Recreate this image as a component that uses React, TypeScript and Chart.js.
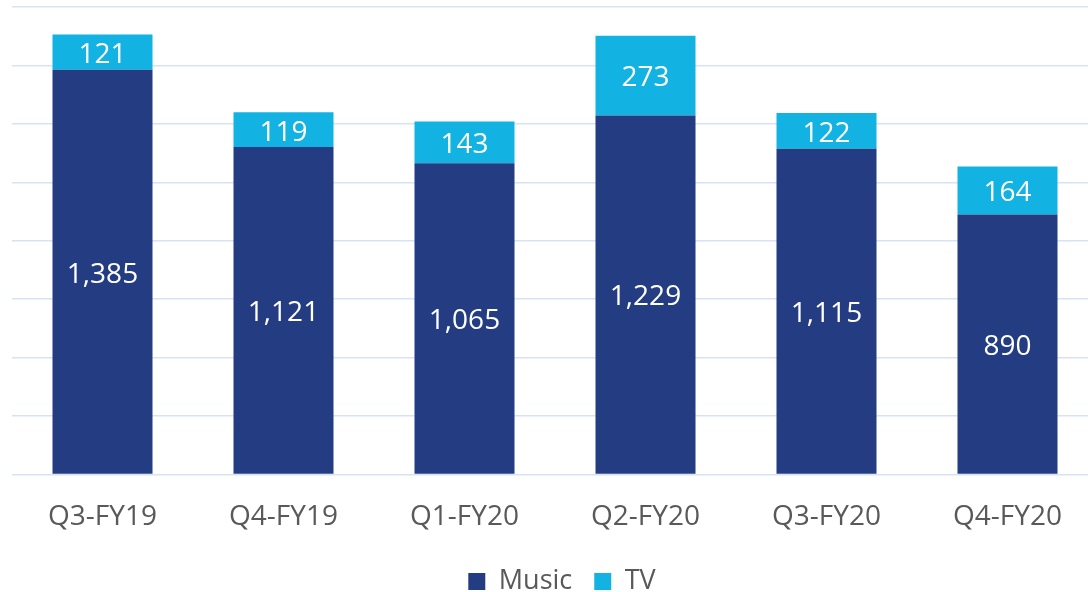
import React, { useEffect, useRef } from "react";
import { Chart, registerables } from "chart.js";

Chart.register(...registerables);

const categories = ["Q3-FY19", "Q4-FY19", "Q1-FY20", "Q2-FY20", "Q3-FY20", "Q4-FY20"];
const musicValues = [1385, 1121, 1065, 1229, 1115, 890];
const tvValues = [121, 119, 143, 273, 122, 164];
const seriesNames = ["Music", "TV"];
const seriesColors = ["#243C81", "#12B3E2"];
const yMax = 1600;
const yStep = 200;

const FONT = "'Open Sans', 'DejaVu Sans', sans-serif";

const valueLabels = {
  id: "valueLabels",
  afterDatasetsDraw(chart: any) {
    const ctx = chart.ctx;
    ctx.save();
    ctx.fillStyle = "#FFFFFF";
    ctx.font = `28px ${FONT}`;
    ctx.textAlign = "center";
    ctx.textBaseline = "middle";
    chart.data.datasets.forEach((ds: any, di: number) => {
      const meta = chart.getDatasetMeta(di);
      meta.data.forEach((bar: any, i: number) => {
        const v = ds.data[i];
        const y = (bar.y + bar.base) / 2 + 3;
        ctx.fillText(v.toLocaleString("en-US"), bar.x, y);
      });
    });
    ctx.restore();
  },
};

const legendShift = {
  id: "legendShift",
  afterLayout(chart: any) {
    if (chart.legend) {
      chart.legend.left += 7;
      chart.legend.right += 7;
    }
  },
};

export default function App() {
  const ref = useRef<HTMLCanvasElement | null>(null);
  useEffect(() => {
    if (!ref.current) return;
    const chart = new Chart(ref.current, {
      type: "bar",
      data: {
        labels: categories,
        datasets: [
          { label: seriesNames[0], data: musicValues, backgroundColor: seriesColors[0] },
          { label: seriesNames[1], data: tvValues, backgroundColor: seriesColors[1] },
        ],
      },
      options: {
        animation: false,
        responsive: false,
        maintainAspectRatio: false,
        layout: { padding: { left: 12, right: 0, top: 7, bottom: -13 } },
        datasets: { bar: { categoryPercentage: 1, barPercentage: 0.5525 } },
        plugins: {
          tooltip: { enabled: false },
          legend: {
            position: "bottom",
            labels: {
              font: { family: FONT, size: 27 },
              color: "#595959",
              boxWidth: 17,
              boxHeight: 17,
              padding: 22,
            },
          },
        },
        scales: {
          x: {
            stacked: true,
            grid: { display: false, drawTicks: false },
            border: { display: false },
            ticks: { font: { family: FONT, size: 28 }, color: "#595959", padding: 26 },
            afterFit: (s: any) => {
              s.height = s.height - 14;
            },
          },
          y: {
            stacked: true,
            min: 0,
            max: yMax,
            ticks: { display: false, stepSize: yStep },
            grid: { color: "#D6E3F5", lineWidth: 1.5, drawTicks: false },
            border: { display: false },
          },
        },
      },
      plugins: [valueLabels, legendShift],
    });
    return () => chart.destroy();
  }, []);
  return (
    <div style={{ position: "fixed", left: 0, top: 0, width: 1088, height: 592, overflow: "hidden", background: "#fff" }}>
      <canvas ref={ref} width={1098} height={592} style={{ display: "block" }} />
    </div>
  );
}
